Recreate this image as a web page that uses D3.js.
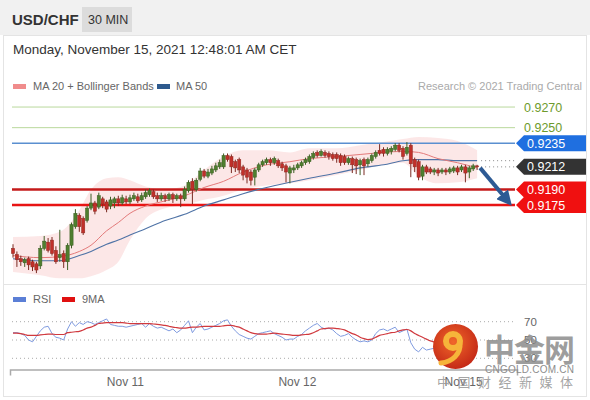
<!DOCTYPE html>
<html><head><meta charset="utf-8">
<script src="https://cdn.jsdelivr.net/npm/d3@7"></script>
<style>body{margin:0;background:#fff;} svg{display:block;font-family:"Liberation Sans",Arial,sans-serif;}</style>
</head><body><svg id="c" width="590" height="400"></svg>
<script>
// ---- candle data (30 min USD/CHF) ----
const open=[0.9133,0.9127,0.9123,0.9119,0.9123,0.9120,0.9118,0.9116,0.9133,0.9139,
0.9141,0.9131,0.9124,0.9128,0.9120,0.9136,0.9154,0.9165,0.9162,0.9160,
0.9172,0.9177,0.9173,0.9181,0.9178,0.9174,0.9177,0.9181,0.9177,0.9181,
0.9178,0.9181,0.9183,0.9180,0.9183,0.9185,0.9188,0.9184,0.9181,0.9184,
0.9181,0.9185,0.9181,0.9184,0.9181,0.9189,0.9198,0.9190,0.9200,0.9208,
0.9203,0.9206,0.9209,0.9212,0.9212,0.9223,0.9222,0.9217,0.9219,0.9212,
0.9209,0.9207,0.9202,0.9209,0.9214,0.9216,0.9219,0.9216,0.9218,0.9215,
0.9213,0.9206,0.9209,0.9211,0.9213,0.9216,0.9217,0.9221,0.9226,0.9223,
0.9226,0.9225,0.9224,0.9224,0.9223,0.9222,0.9216,0.9220,0.9219,0.9214,
0.9219,0.9215,0.9218,0.9222,0.9228,0.9229,0.9225,0.9227,0.9229,0.9233,
0.9230,0.9225,0.9233,0.9219,0.9217,0.9203,0.9212,0.9210,0.9207,0.9209,
0.9207,0.9209,0.9207,0.9208,0.9211,0.9209,0.9212,0.9207,0.9210,0.9213];
const high=[0.9137,0.9130,0.9126,0.9124,0.9125,0.9122,0.9120,0.9136,0.9145,0.9143,
0.9144,0.9135,0.9151,0.9131,0.9138,0.9158,0.9171,0.9167,0.9164,0.9174,
0.9186,0.9179,0.9187,0.9183,0.9180,0.9183,0.9183,0.9184,0.9185,0.9184,
0.9185,0.9187,0.9186,0.9187,0.9190,0.9191,0.9190,0.9187,0.9187,0.9186,
0.9187,0.9187,0.9186,0.9186,0.9193,0.9199,0.9201,0.9201,0.9211,0.9210,
0.9210,0.9213,0.9216,0.9219,0.9225,0.9225,0.9224,0.9219,0.9221,0.9214,
0.9211,0.9209,0.9211,0.9216,0.9219,0.9221,0.9221,0.9222,0.9220,0.9217,
0.9215,0.9213,0.9214,0.9216,0.9218,0.9221,0.9224,0.9227,0.9228,0.9229,
0.9228,0.9227,0.9226,0.9226,0.9225,0.9224,0.9222,0.9222,0.9221,0.9220,
0.9221,0.9221,0.9225,0.9228,0.9234,0.9231,0.9231,0.9232,0.9235,0.9235,
0.9232,0.9236,0.9235,0.9221,0.9219,0.9214,0.9214,0.9212,0.9211,0.9211,
0.9211,0.9211,0.9212,0.9213,0.9213,0.9214,0.9214,0.9213,0.9215,0.9214];
const low=[0.9124,0.9115,0.9116,0.9115,0.9112,0.9111,0.9109,0.9113,0.9131,0.9129,
0.9126,0.9118,0.9120,0.9114,0.9112,0.9133,0.9152,0.9149,0.9146,0.9158,
0.9170,0.9166,0.9171,0.9172,0.9168,0.9171,0.9172,0.9174,0.9175,0.9176,
0.9176,0.9179,0.9177,0.9178,0.9181,0.9183,0.9181,0.9178,0.9179,0.9178,
0.9179,0.9177,0.9179,0.9173,0.9179,0.9187,0.9176,0.9188,0.9198,0.9201,
0.9201,0.9204,0.9207,0.9210,0.9210,0.9217,0.9206,0.9207,0.9206,0.9199,
0.9196,0.9194,0.9194,0.9207,0.9212,0.9214,0.9213,0.9214,0.9211,0.9208,
0.9197,0.9196,0.9206,0.9209,0.9211,0.9214,0.9215,0.9219,0.9221,0.9222,
0.9221,0.9219,0.9218,0.9216,0.9213,0.9214,0.9214,0.9206,0.9205,0.9204,
0.9204,0.9212,0.9216,0.9220,0.9223,0.9222,0.9223,0.9224,0.9227,0.9226,
0.9219,0.9223,0.9202,0.9207,0.9199,0.9199,0.9205,0.9205,0.9204,0.9203,
0.9205,0.9204,0.9205,0.9206,0.9204,0.9207,0.9197,0.9201,0.9208,0.9209];
const close=[0.9128,0.9122,0.9120,0.9122,0.9117,0.9115,0.9112,0.9133,0.9140,0.9131,
0.9128,0.9120,0.9127,0.9120,0.9136,0.9156,0.9167,0.9154,0.9148,0.9172,
0.9177,0.9169,0.9184,0.9176,0.9171,0.9180,0.9181,0.9177,0.9182,0.9178,
0.9182,0.9184,0.9179,0.9184,0.9187,0.9189,0.9183,0.9181,0.9184,0.9181,
0.9185,0.9181,0.9184,0.9181,0.9190,0.9197,0.9190,0.9199,0.9208,0.9203,
0.9207,0.9210,0.9213,0.9216,0.9223,0.9219,0.9212,0.9211,0.9209,0.9204,
0.9202,0.9199,0.9209,0.9214,0.9217,0.9219,0.9216,0.9220,0.9213,0.9211,
0.9207,0.9211,0.9211,0.9214,0.9216,0.9219,0.9222,0.9225,0.9223,0.9227,
0.9223,0.9222,0.9220,0.9220,0.9216,0.9216,0.9220,0.9214,0.9213,0.9218,
0.9213,0.9219,0.9223,0.9226,0.9225,0.9225,0.9229,0.9230,0.9233,0.9228,
0.9222,0.9231,0.9215,0.9212,0.9202,0.9212,0.9207,0.9207,0.9209,0.9206,
0.9209,0.9207,0.9210,0.9211,0.9207,0.9212,0.9206,0.9211,0.9213,0.9212];

// ---- indicator samples (read at candle indices) ----
const indIdx=[0,7,12,17,20,24,27,30,34,39,44,49,54,59,65,71,76,83,89,95,100,104,109,114,119];
const bbUpper=[0.9144,0.9145,0.9149,0.9170,0.9190,0.9201,0.9202,0.9199,0.9193,0.9190,0.9194,0.9209,0.9222,0.9228,0.9228,0.9226,0.9230,0.9230,0.9233,0.9236,0.9239,0.9241,0.9240,0.9237,0.9228];
const bbLower=[0.9110,0.9107,0.9104,0.9104,0.9106,0.9112,0.9120,0.9141,0.9162,0.9172,0.9175,0.9180,0.9184,0.9190,0.9194,0.9196,0.9199,0.9204,0.9209,0.9214,0.9216,0.9203,0.9196,0.9197,0.9201];
const ma20=[0.9126,0.9124,0.9125,0.9130,0.9136,0.9150,0.9158,0.9167,0.9174,0.9179,0.9184,0.9192,0.9198,0.9207,0.9214,0.9217,0.9220,0.9222,0.9224,0.9226,0.9227,0.9226,0.9220,0.9216,0.9211];
const ma50=[0.9123,0.9121,0.9121,0.9126,0.9130,0.9137,0.9141,0.9146,0.9152,0.9160,0.9166,0.9174,0.9180,0.9186,0.9192,0.9197,0.9201,0.9206,0.9211,0.9214,0.9218,0.9219,0.9219,0.9218,0.9218];

// ---- RSI (per candle) ----
const rsi=[58,58,57,55,50,48,54,60,64,65,57,53,52,50,62,70,65,69,67,70,
69,67,69,71,73,67,66,65,65,64,65,66,67,68,64,68,65,63,64,62,
60,62,58,61,66,71,58,64,68,61,62,64,66,68,71,72,65,60,56,54,
52,51,54,57,58,59,60,57,55,53,50,51,51,54,56,60,63,66,68,64,
62,63,61,57,54,55,57,53,50,48,49,48,50,57,61,62,60,62,64,58,
60,62,47,40,37,42,39,40,41,40,42,41,43,44,42,44,40,43,45,44];
const rsiMA=[57.5,57.5,57,56,55,55,55,55.5,56,56.5,56.5,56,56,56,58,58.5,59,59.5,61,63,
64,66,68,68.5,69,69,69,69,69,68.5,68,68,68,68,68,68,67.5,67,66.5,66,
65,64,63.5,63,63,63.5,64,64,64.5,65,65,65,65,65,65.5,66,66,65,64,62,
60,58,57,56.5,56.5,56.5,57,57.5,57,56.5,56,55.5,55,55,55.5,56,56.5,58,60,62,
62.5,63,63,62.5,62,61,59,57,55.5,53,51.5,50.5,51,53,55,56,57,58,58.5,60,
61,61.5,60,57,55,53,51,49,48,47,46,45,44,43.5,43,42.5,42.5,42.5,42.5,42.5];
const rsiLevels=[70,50,30];

// ---- levels & axis ----
const greenLevels=[0.9270,0.9250];
const resistance=0.9235, lastPrice=0.9212;
const supports=[0.9190,0.9175];
const tickIdx=[28.7,72.8,115.4];
const tickLabels=["Nov 11","Nov 12","Nov 15"];

const svg=d3.select("#c");
const x=d3.scaleLinear().domain([-0.77,129.23]).range([10,517]);
const y=d3.scaleLinear().domain([0.9100,0.9290]).range([282.4,86.4]);
const yr=d3.scaleLinear().domain([30,70]).range([358.3,321.7]);
const X0=12, X1=515;

// header
svg.append("rect").attr("x",0).attr("y",0).attr("width",590).attr("height",35).attr("fill","#f1f1f1");
svg.append("text").attr("x",12).attr("y",25).attr("font-size",15).attr("font-weight","bold").attr("fill","#333").text("USD/CHF");
svg.append("rect").attr("x",82).attr("y",7).attr("width",50).attr("height",25).attr("fill","#dcdcdc");
svg.append("text").attr("x",88).attr("y",24).attr("font-size",12.5).attr("fill","#333").text("30 MIN");
svg.append("rect").attr("x",3.5).attr("y",35.5).attr("width",583).attr("height",361).attr("fill","none").attr("stroke","#e4e4e4");
svg.append("text").attr("x",13).attr("y",54).attr("font-size",13.5).attr("fill","#333").text("Monday, November 15, 2021 12:48:01 AM CET");
svg.append("line").attr("x1",3).attr("x2",587).attr("y1",284.5).attr("y2",284.5).attr("stroke","#e4e4e4");

// legend
svg.append("rect").attr("x",13).attr("y",84).attr("width",13).attr("height",5).attr("fill","#f08c8c");
svg.append("text").attr("x",33).attr("y",90).attr("font-size",11).attr("fill","#666").text("MA 20 + Bollinger Bands");
svg.append("rect").attr("x",157).attr("y",84).attr("width",13).attr("height",5).attr("fill","#2e5a8e");
svg.append("text").attr("x",176).attr("y",90).attr("font-size",11).attr("fill","#666").text("MA 50");
svg.append("text").attr("x",582).attr("y",90).attr("text-anchor","end").attr("font-size",11).attr("fill","#aaa").text("Research \u00a9 2021 Trading Central");

// bollinger band
const band=indIdx.map((d,k)=>({i:d,u:bbUpper[k],l:bbLower[k],m20:ma20[k],m50:ma50[k]}));
svg.append("path").datum(band).attr("fill","#f7c6c6").attr("fill-opacity",0.42)
  .attr("d",d3.area().x(d=>x(d.i)).y0(d=>y(d.l)).y1(d=>y(d.u)).curve(d3.curveMonotoneX));

// levels
greenLevels.forEach(p=>{
  svg.append("line").attr("x1",X0).attr("x2",X1).attr("y1",y(p)).attr("y2",y(p)).attr("stroke","#b9d89c").attr("stroke-width",1);
  svg.append("text").attr("x",524).attr("y",y(p)).attr("dy","0.36em").attr("font-size",12.5).attr("fill","#6e9b2c").text(p.toFixed(4));
});
svg.append("line").attr("x1",X0).attr("x2",X1).attr("y1",y(resistance)).attr("y2",y(resistance)).attr("stroke","#5a8fd0").attr("stroke-width",1.5);
supports.forEach((p,k)=>{
  svg.append("line").attr("x1",X0).attr("x2",X1).attr("y1",y(p)).attr("y2",y(p)).attr("stroke",k===0?"#c41a1a":"#e81414").attr("stroke-width",2.5);
});

// MAs
svg.append("path").datum(band).attr("fill","none").attr("stroke","#4f73a6").attr("stroke-width",1.1)
  .attr("d",d3.line().x(d=>x(d.i)).y(d=>y(d.m50)).curve(d3.curveMonotoneX));
svg.append("path").datum(band).attr("fill","none").attr("stroke","#e37a7a").attr("stroke-width",1)
  .attr("d",d3.line().x(d=>x(d.i)).y(d=>y(d.m20)).curve(d3.curveMonotoneX));

// candles
const candles=open.map((o,i)=>({i,o,h:high[i],l:low[i],c:close[i]}));
const g=svg.append("g");
g.selectAll("line.w").data(candles).join("line").attr("class","w")
  .attr("x1",d=>x(d.i)).attr("x2",d=>x(d.i)).attr("y1",d=>y(d.h)).attr("y2",d=>y(d.l))
  .attr("stroke",d=>d.c>=d.o?"#3d5f25":"#7a2a22").attr("stroke-width",1);
g.selectAll("rect").data(candles).join("rect")
  .attr("x",d=>x(d.i)-1.6).attr("width",3.2)
  .attr("y",d=>y(Math.max(d.o,d.c))).attr("height",d=>Math.max(1,Math.abs(y(d.o)-y(d.c))))
  .attr("fill",d=>d.c>=d.o?"#4f7f2f":"#c0302a").attr("stroke",d=>d.c>=d.o?"#3a5e22":"#8e2a22").attr("stroke-width",0.5);

// dotted continuation lines
const lastI=open.length-1;
[ma50[ma50.length-1],lastPrice].forEach(p=>{
  svg.append("line").attr("x1",x(lastI)+4).attr("x2",X1).attr("y1",y(p)).attr("y2",y(p))
    .attr("stroke","#888").attr("stroke-width",1).attr("stroke-dasharray","1,3");
});

// right labels
function tag(p,fill,txt){
  const c=y(p),h=8;
  svg.append("polygon").attr("points",[[516,c],[524,c-h],[586,c-h],[586,c+h],[524,c+h]].map(q=>q.join(",")).join(" ")).attr("fill",fill);
  svg.append("text").attr("x",527).attr("y",c).attr("dy","0.36em").attr("font-size",12.5).attr("fill","#fff").text(txt);
}
tag(resistance,"#1f6fe0",resistance.toFixed(4));
tag(lastPrice,"#333",lastPrice.toFixed(4));
supports.forEach(p=>tag(p,"#f01010",p.toFixed(4)));

// arrow
const ax1=x(lastI)+3, ay1=y(lastPrice)+1, ax2=507, ay2=y(supports[1])-5;
svg.append("defs").append("marker").attr("id","ah").attr("viewBox","0 0 10 10").attr("refX",5).attr("refY",5)
  .attr("markerWidth",3.8).attr("markerHeight",3.8).attr("orient","auto")
  .append("path").attr("d","M0,0L10,5L0,10Z").attr("fill","#2d5a94");
svg.append("line").attr("x1",ax1).attr("y1",ay1).attr("x2",ax2).attr("y2",ay2).attr("stroke","#2d5a94").attr("stroke-width",4).attr("marker-end","url(#ah)");

// RSI panel
svg.append("rect").attr("x",13).attr("y",297).attr("width",13).attr("height",5).attr("fill","#5b7fd6");
svg.append("text").attr("x",33).attr("y",303).attr("font-size",11).attr("fill","#666").text("RSI");
svg.append("rect").attr("x",62).attr("y",297).attr("width",13).attr("height",5).attr("fill","#e01010");
svg.append("text").attr("x",82).attr("y",303).attr("font-size",11).attr("fill","#666").text("9MA");
rsiLevels.forEach(v=>{
  svg.append("line").attr("x1",X0).attr("x2",X1).attr("y1",yr(v)).attr("y2",yr(v)).attr("stroke","#aaa").attr("stroke-dasharray","1,3");
  svg.append("text").attr("x",524).attr("y",yr(v)).attr("dy","0.36em").attr("font-size",11.5).attr("fill","#666").text(v);
});
svg.append("path").datum(rsi).attr("fill","none").attr("stroke","#7f9be0").attr("stroke-width",1)
  .attr("d",d3.line().x((d,i)=>x(i)).y(d=>yr(d)));
svg.append("path").datum(rsiMA).attr("fill","none").attr("stroke","#d0393e").attr("stroke-width",1.2)
  .attr("d",d3.line().x((d,i)=>x(i)).y(d=>yr(d)).curve(d3.curveMonotoneX));

// x axis
const axis=svg.append("g").attr("transform","translate(0,369.5)")
  .call(d3.axisBottom(x).tickValues(tickIdx).tickFormat((d,k)=>tickLabels[k]).tickSizeInner(0).tickSizeOuter(6).tickPadding(8));
axis.select(".domain").attr("stroke","#aaa").attr("stroke-width",1.5);
axis.selectAll("text").attr("font-size",12).attr("fill","#666").attr("font-family","Liberation Sans, Arial, sans-serif");

// watermark
const wm=svg.append("g");
const rg=svg.select("defs").append("radialGradient").attr("id","lg").attr("cx","45%").attr("cy","40%").attr("r","60%");
rg.append("stop").attr("offset","0%").attr("stop-color","#f0662a");
rg.append("stop").attr("offset","100%").attr("stop-color","#c52a17");
wm.append("circle").attr("cx",455.5).attr("cy",346.5).attr("r",22.5).attr("fill","url(#lg)");
wm.append("circle").attr("cx",453).attr("cy",341).attr("r",7).attr("fill","none").attr("stroke","#f6b43a").attr("stroke-width",6);
wm.append("path").attr("d","M460,343 C461,354 452,362 441,363").attr("fill","none").attr("stroke","#f6b43a").attr("stroke-width",5).attr("stroke-linecap","round");
wm.append("text").attr("x",484).attr("y",361).attr("font-size",31).attr("font-weight","bold").attr("fill","#8c8c8c").attr("fill-opacity",0.85)
  .attr("font-family","Noto Sans CJK SC").attr("textLength",91).text("中金网");
wm.append("text").attr("x",485).attr("y",372.5).attr("font-size",10).attr("fill","#8c8c8c").attr("textLength",89).text("CNGOLD.COM.CN");
wm.append("text").attr("x",437).attr("y",387).attr("font-size",13).attr("fill","#999").attr("fill-opacity",0.9)
  .attr("font-family","Noto Sans CJK SC").attr("textLength",136).text("中国财经新媒体");
</script></body></html>
